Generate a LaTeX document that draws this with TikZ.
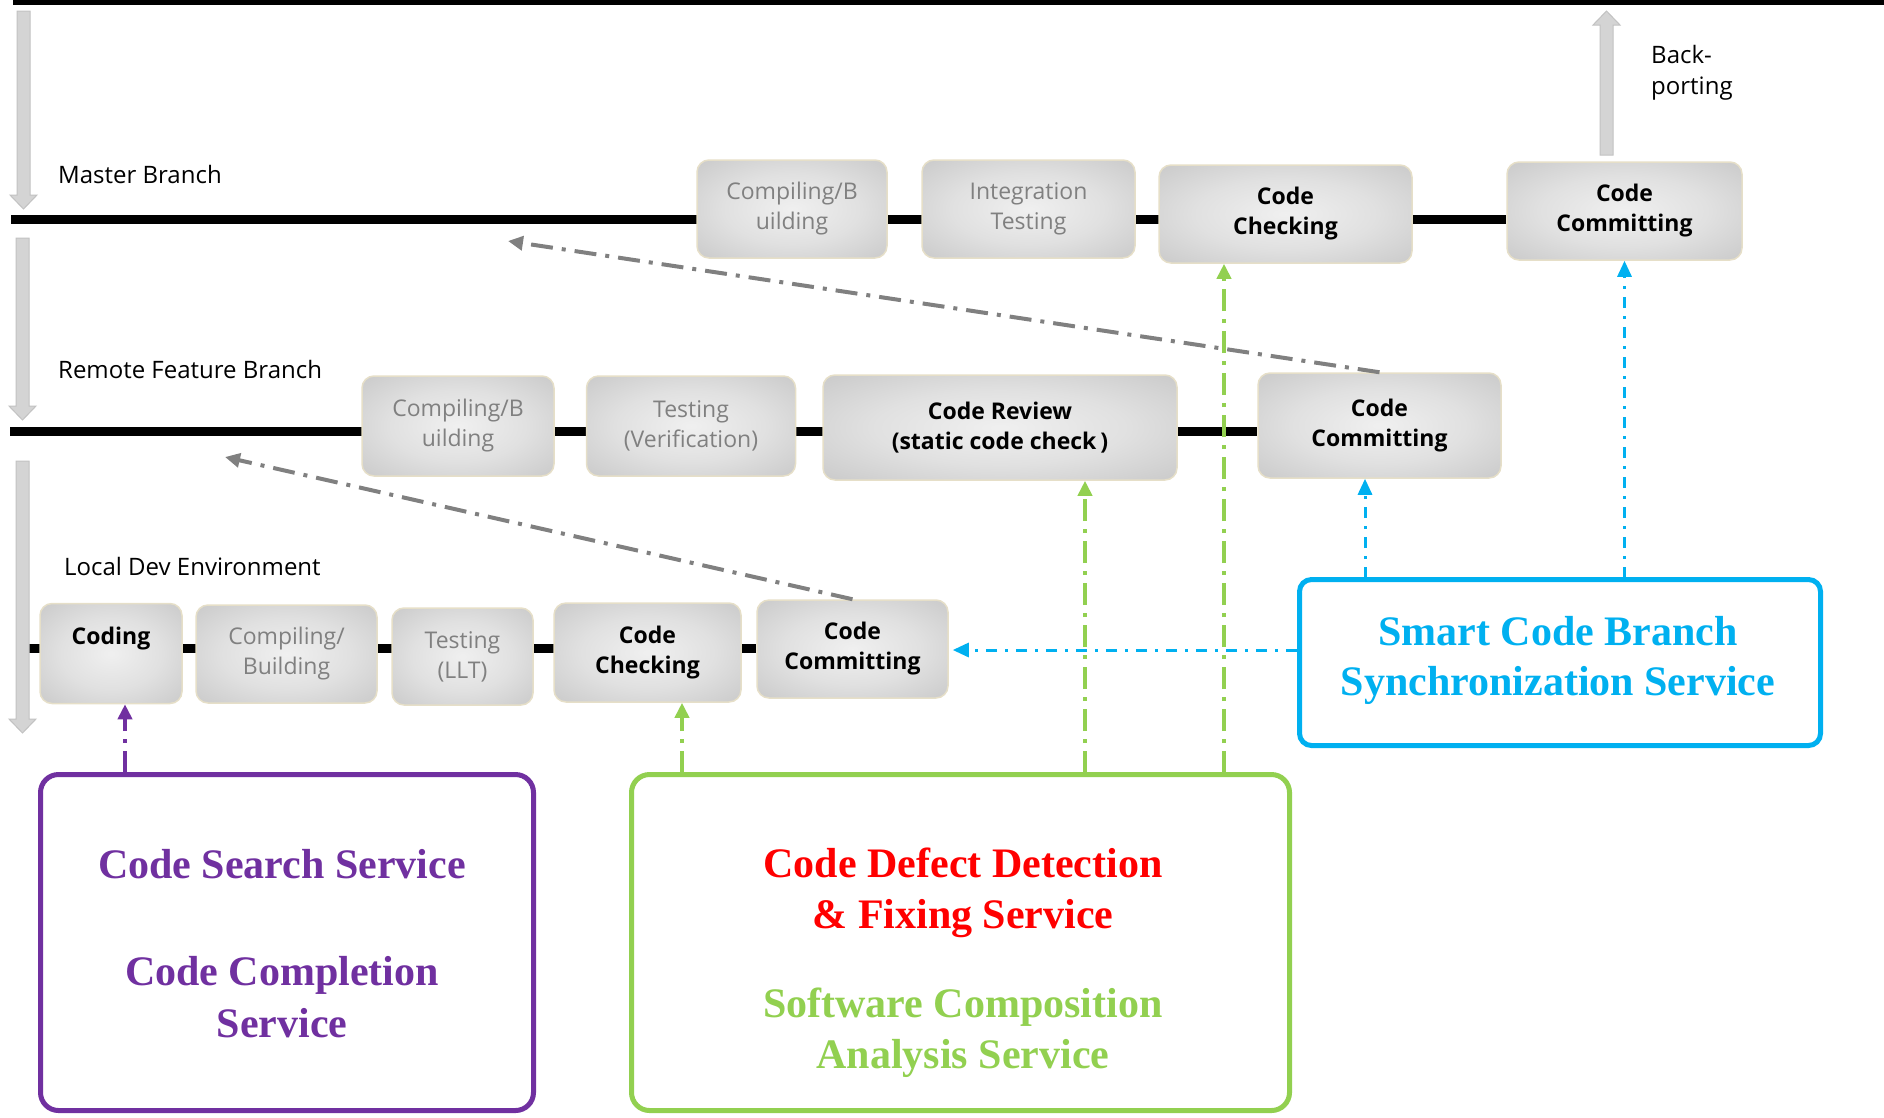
\documentclass[tikz,border=0pt]{standalone}
\usepackage{fontspec}
\setmainfont{Liberation Serif}
\newfontfamily\uifont{Open Sans}
\usetikzlibrary{arrows.meta,calc}

\definecolor{stagetext}{HTML}{808080}
\definecolor{stageedge}{HTML}{E6DFC8}
\definecolor{blockfill}{HTML}{D4D4D4}
\definecolor{blockedge}{HTML}{C2C2C2}
\definecolor{flowgray}{HTML}{808080}
\definecolor{svcpurple}{HTML}{7030A0}
\definecolor{svcgreen}{HTML}{92D050}
\definecolor{svcblue}{HTML}{00B0F0}
\definecolor{svcred}{HTML}{FF0000}

\pgfdeclareradialshading{stageshade}{\pgfpoint{0bp}{0bp}}{%
  color(0bp)=(white!94!black);
  color(18bp)=(white!88!black);
  color(38bp)=(white!78!black);
  color(50bp)=(white!73!black);
  color(72bp)=(white!70!black)}

\pgfdeclarelayer{background}
\pgfsetlayers{background,main}

\tikzset{
  stage/.style={rounded corners=12pt, draw=stageedge, line width=1.5pt,
    shading=stageshade, inner sep=0pt, align=center, text=stagetext,
    font=\uifont\fontsize{23}{30}\selectfont},
  active/.style={stage, text=black,
    font=\uifont\bfseries\fontsize{23}{30}\selectfont},
  lanelabel/.style={anchor=base west, inner sep=0pt,
    font=\uifont\fontsize{24}{31}\selectfont},
  rail/.style={line width=9pt, black},
  blockarrow/.style={fill=blockfill, draw=blockedge, line width=1pt},
  svcbox/.style={rounded corners=18pt, line width=5pt, inner sep=0pt, fill=white},
  svctext/.style={anchor=base, inner sep=0pt,
    font=\bfseries\fontsize{42}{50}\selectfont},
  grayflow/.style={draw=flowgray, line width=4pt,
    dash pattern=on 22pt off 9pt on 4pt off 9pt,
    -{Triangle[length=15pt,width=14pt]}},
  greenflow/.style={draw=svcgreen, line width=4pt,
    dash pattern=on 22pt off 8pt on 4pt off 8pt,
    -{Triangle[length=15pt,width=14pt]}},
  purpleflow/.style={draw=svcpurple, line width=4pt,
    dash pattern=on 22pt off 8pt on 4pt off 8pt,
    -{Triangle[length=15pt,width=14pt]}},
  blueflow/.style={draw=svcblue, line width=3pt,
    dash pattern=on 11pt off 8pt on 3pt off 8pt,
    -{Triangle[length=16pt,width=14pt]}},
}

\begin{document}
\begin{tikzpicture}[x=1pt,y=-1pt]
\useasboundingbox (0,0) rectangle (1884,1117);

% --- lane labels ---
\node[lanelabel] (mlabel) at (58,183) {Master Branch};
\node[lanelabel] (rlabel) at (58,378) {Remote Feature Branch};
\node[lanelabel] (llabel) at (64,575) {Local Dev Environment};
\node[lanelabel] (backlabel1) at (1651,63) {Back-};
\node[lanelabel] (backlabel2) at (1651,94) {porting};

% --- master branch stages ---
\node[stage, minimum width=190pt, minimum height=98pt] (mcomp) at (792,209) {Compiling/B\\uilding};
\node[stage, minimum width=213pt, minimum height=98pt] (minteg) at (1028.5,209) {Integration\\Testing};
\node[active, minimum width=253pt, minimum height=98pt] (mcheck) at (1285.5,214) {Code\\Checking};
\node[active, minimum width=235pt, minimum height=98pt] (mcommit) at (1624.5,211) {Code\\Committing};

% --- remote feature branch stages ---
\node[stage, minimum width=192pt, minimum height=100pt] (rcomp) at (458,426) {Compiling/B\\uilding};
\node[stage, minimum width=209pt, minimum height=100pt] (rtest) at (691,426) {Testing\\(Verification)};
\node[active, minimum width=354pt, minimum height=105pt] (rreview) at (1000,427.5) {Code Review\\(static code check\kern4pt)};
\node[active, minimum width=243pt, minimum height=105pt] (rcommit) at (1379.5,425.5) {Code\\Committing};

% --- local development stages ---
\node[active, minimum width=142pt, minimum height=100pt] (lcoding) at (111,653.5) {Coding\\[0pt]\phantom{g}};
\node[stage, minimum width=181pt, minimum height=98pt] (lcomp) at (286.5,654) {Compiling/\\Building};
\node[stage, minimum width=141pt, minimum height=97pt] (ltest) at (462.5,656.5) {Testing\\(LLT)};
\node[active, minimum width=187pt, minimum height=99pt] (lcheck) at (647.5,652.5) {Code\\Checking};
\node[active, minimum width=191pt, minimum height=98pt] (lcommit) at (852.5,649) {Code\\Committing};

% --- branch rails behind the stages ---
\coordinate (toprail) at (13,2.5);
\coordinate (mrail) at (11,219.5);
\coordinate (rrail) at (10,431);
\coordinate (lrail) at (28,648);
\begin{pgfonlayer}{background}
  \draw[black, line width=5pt] (toprail) -- (1884,2.5);
  \draw[rail] (mrail) -- (mrail -| mcommit.west);
  \draw[rail] (rrail) -- (rrail -| rcommit.west);
  \draw[rail] (lrail) -- (lrail -| lcommit.west);
\end{pgfonlayer}

% --- block arrows: flow down the lanes and back-porting ---
\path[blockarrow] (17,11) -- (30,11) -- (30,195) -- (37,195) -- (23.5,209) -- (10,195) -- (17,195) -- cycle;
\path[blockarrow] (16,238) -- (29,238) -- (29,406) -- (36,406) -- (22.5,420) -- (9,406) -- (16,406) -- cycle;
\path[blockarrow] (16,461) -- (29,461) -- (29,719) -- (36,719) -- (22.5,733) -- (9,719) -- (16,719) -- cycle;
\path[blockarrow] (1600,155) -- (1600,25) -- (1593,25) -- (1606.5,11) -- (1620,25) -- (1613,25) -- (1613,155) -- cycle;

% --- promotion flows between lanes ---
\coordinate (mtarget) at (508,241);
\coordinate (rtarget) at (225,457);
\draw[grayflow] (rcommit.north) -- (mtarget);
\draw[grayflow] (lcommit.north) -- (rtarget);

% --- service boxes ---
\node[svcbox, draw=svcpurple, minimum width=493pt, minimum height=336pt] (pbox) at (287,942.5) {};
\node[svcbox, draw=svcgreen, minimum width=658pt, minimum height=336pt] (gbox) at (960.5,942.5) {};
\node[svcbox, draw=svcblue, rounded corners=12pt, minimum width=521pt, minimum height=166pt] (sbox) at (1560,662.5) {};

\node[svctext, text=svcpurple] (p1) at (282,878) {Code Search Service};
\node[svctext, text=svcpurple] (p2) at (282,985) {Code Completion};
\node[svctext, text=svcpurple] (p3) at (282,1037) {Service};

\node[svctext, text=svcred] (g1t) at (963,877) {Code Defect Detection};
\node[svctext, text=svcred] (g2t) at (963,928) {\& Fixing Service};
\node[svctext, text=svcgreen] (g3t) at (963,1017) {Software Composition};
\node[svctext, text=svcgreen] (g4t) at (963,1068) {Analysis Service};

\node[svctext, text=svcblue] (s1) at (1558,645) {Smart Code Branch};
\node[svctext, text=svcblue] (s2) at (1558,695) {Synchronization Service};

% --- service connectors ---
\coordinate (pa) at (125,773);
\draw[purpleflow] (pa) -- (pa |- lcoding.south);

\coordinate (ga) at (682,773);
\coordinate (gb) at (1085,773);
\coordinate (gc) at (1224,773);
\draw[greenflow] (ga) -- (ga |- lcheck.south);
\draw[greenflow] (gb) -- (gb |- rreview.south);
\draw[greenflow] (gc) -- (gc |- mcheck.south);

\coordinate (ba) at (1365,578);
\coordinate (bb) at (1624.5,578);
\draw[blueflow] (ba) -- (ba |- rcommit.south);
\draw[blueflow] (bb) -- (bb |- mcommit.south);
\draw[blueflow, shorten >=4pt] (sbox.west |- 0,650) -- (lcommit.east |- 0,650);
\end{tikzpicture}
\end{document}
